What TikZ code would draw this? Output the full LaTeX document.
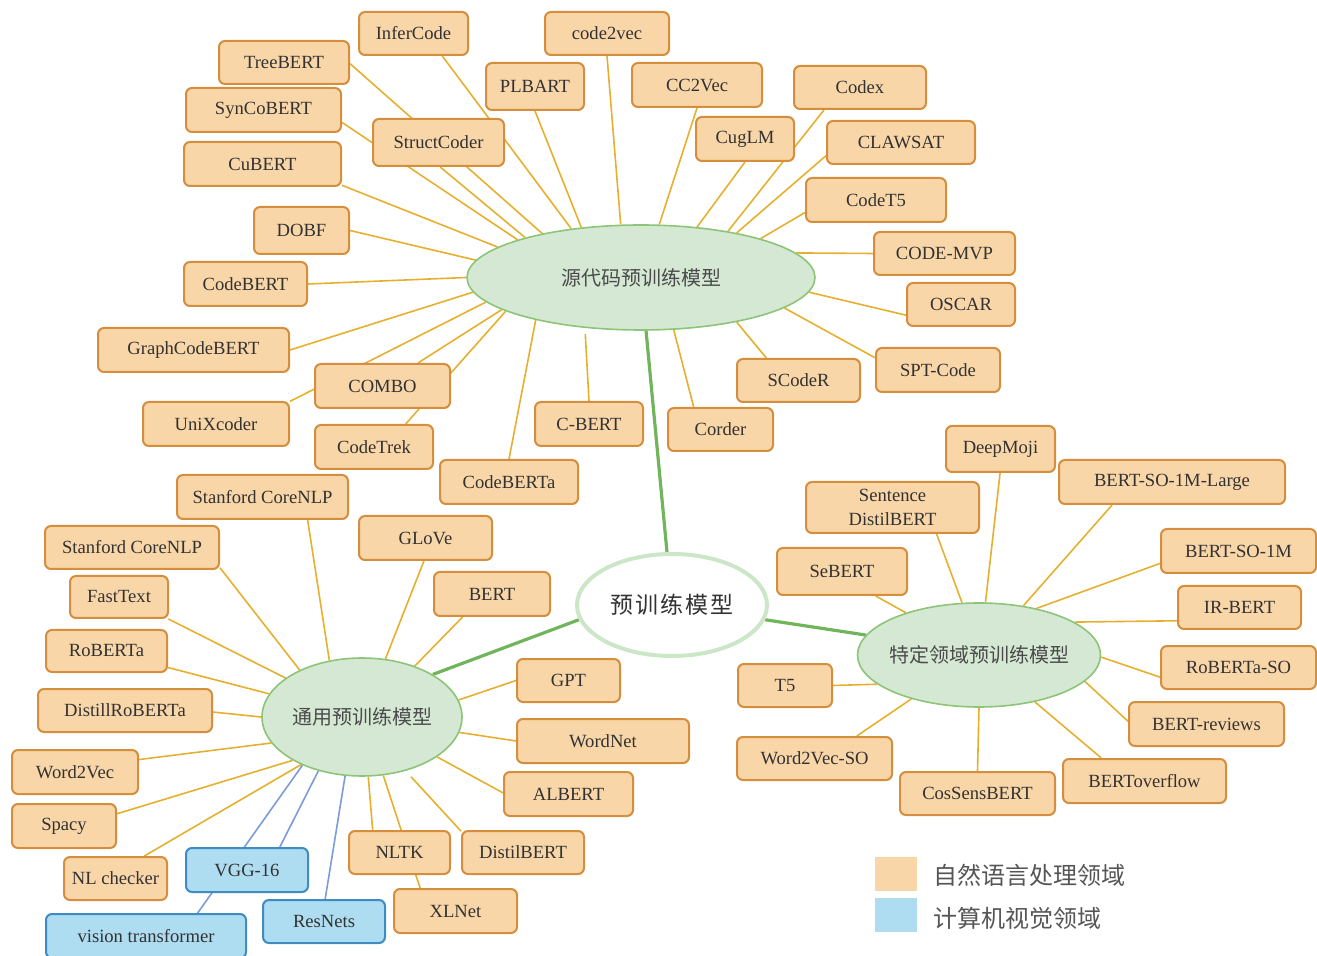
\documentclass[tikz,border=0pt]{standalone}
\usepackage{fontspec}
\setmainfont{Liberation Serif}
\newfontfamily\cjk{Noto Sans CJK SC}
\usetikzlibrary{shapes.geometric,backgrounds}
\definecolor{nlpfill}{RGB}{249,214,168}
\definecolor{nlpdraw}{RGB}{212,142,62}
\definecolor{cvfill}{RGB}{174,220,240}
\definecolor{cvdraw}{RGB}{62,140,196}
\definecolor{orangeline}{RGB}{230,176,46}
\definecolor{blueline}{RGB}{125,155,215}
\definecolor{greenline}{RGB}{112,180,92}
\definecolor{hubfill}{RGB}{213,232,211}
\definecolor{hubdraw}{RGB}{140,196,120}
\definecolor{rootdraw}{RGB}{204,230,200}
\definecolor{textc}{RGB}{50,50,50}
\definecolor{hubtext}{RGB}{75,75,75}
\definecolor{legtext}{RGB}{85,85,85}
\tikzset{
  bx/.style 2 args={minimum width=#1*0.5pt, minimum height=#2*0.5pt},
  nlp/.style={draw=nlpdraw, fill=nlpfill, line width=1pt, rounded corners=3pt,
    inner sep=0pt, font=\fontsize{9.3}{12}\selectfont, text=textc},
  cv/.style={nlp, draw=cvdraw, fill=cvfill},
  oe/.style={draw=orangeline, line width=0.8pt},
  be/.style={draw=blueline, line width=0.8pt},
  ge/.style={draw=greenline, line width=1.6pt},
  hub/.style={ellipse, draw=hubdraw, fill=hubfill, line width=0.8pt,
    inner ysep=0pt, inner xsep=-12pt, font=\cjk\fontsize{10}{12}\selectfont, text=hubtext},
  rootstyle/.style={ellipse, draw=rootdraw, fill=white, line width=2pt,
    inner ysep=0pt, inner xsep=-12pt, font=\cjk\fontsize{11.5}{13}\selectfont, text=textc},
  legbox/.style={minimum width=21pt, minimum height=17pt, inner sep=0pt},
  legtxt/.style={anchor=west, inner sep=0pt, font=\cjk\fontsize{12}{14}\selectfont, text=legtext}
}
\begin{document}
\begin{tikzpicture}[x=0.5pt,y=-0.5pt]
\useasboundingbox (0,0) rectangle (1317,956);

% hubs
\node[hub, minimum width=348*0.5pt, minimum height=105*0.5pt] (src) at (641,277.5) {源代码预训练模型};
\node[hub, minimum width=200*0.5pt, minimum height=118*0.5pt] (gen) at (362,717) {通用预训练模型};
\node[hub, minimum width=243*0.5pt, minimum height=104*0.5pt] (spec) at (979,655) {特定领域预训练模型};
\node[rootstyle, minimum width=190*0.5pt, minimum height=102*0.5pt] (root) at (672,605) {预\hspace{1pt}训\hspace{1pt}练\hspace{1pt}模\hspace{1pt}型};

% source code models
\node[nlp,bx={109}{43}] (infercode) at (413.5,33.5) {InferCode};
\node[nlp,bx={124}{43}] (codetovec) at (607,33.5) {code2vec};
\node[nlp,bx={130}{43}] (treebert) at (284,62.5) {TreeBERT};
\node[nlp,bx={98}{47}] (plbart) at (535,86.5) {PLBART};
\node[nlp,bx={130}{44}] (cctovec) at (697,85) {CC2Vec};
\node[nlp,bx={132}{43}] (codex) at (860,87.5) {Codex};
\node[nlp,bx={155}{44}] (syncobert) at (263.5,110) {SynCoBERT};
\node[nlp,bx={131}{47}] (structcoder) at (438.5,142.5) {StructCoder};
\node[nlp,bx={98}{44}] (cuglm) at (745,139) {CugLM};
\node[nlp,bx={148}{43}] (clawsat) at (901,142.5) {CLAWSAT};
\node[nlp,bx={157}{44}] (cubert) at (262.5,164) {CuBERT};
\node[nlp,bx={140}{44}] (codetfive) at (876,200) {CodeT5};
\node[nlp,bx={95}{47}] (dobf) at (301.5,230.5) {DOBF};
\node[nlp,bx={141}{43}] (codemvp) at (944.5,253.5) {CODE-MVP};
\node[nlp,bx={123}{44}] (codebert) at (245.5,284) {CodeBERT};
\node[nlp,bx={108}{43}] (oscar) at (961,304.5) {OSCAR};
\node[nlp,bx={191}{44}] (graphcodebert) at (193.5,350) {GraphCodeBERT};
\node[nlp,bx={124}{44}] (sptcode) at (938,370) {SPT-Code};
\node[nlp,bx={135}{44}] (combo) at (382.5,386) {COMBO};
\node[nlp,bx={123}{43}] (scoder) at (798.5,380.5) {SCodeR};
\node[nlp,bx={146}{44}] (unixcoder) at (216,424) {UniXcoder};
\node[nlp,bx={108}{44}] (cbert) at (589,424) {C-BERT};
\node[nlp,bx={105}{43}] (corder) at (720.5,429.5) {Corder};
\node[nlp,bx={118}{44}] (codetrek) at (374,447) {CodeTrek};
\node[nlp,bx={138}{44}] (codeberta) at (509,482) {CodeBERTa};

% general models
\node[nlp,bx={171}{44}] (scnlpa) at (262.5,497) {Stanford CoreNLP};
\node[nlp,bx={174}{43}] (scnlpb) at (132,547.5) {Stanford CoreNLP};
\node[nlp,bx={133}{44}] (glove) at (425.5,538) {GLoVe};
\node[nlp,bx={98}{42}] (fasttext) at (119,597) {FastText};
\node[nlp,bx={116}{44}] (bert) at (492,594) {BERT};
\node[nlp,bx={121}{42}] (roberta) at (106.5,651) {RoBERTa};
\node[nlp,bx={103}{43}] (gpt) at (568.5,680.5) {GPT};
\node[nlp,bx={174}{43}] (distillroberta) at (125,710.5) {DistillRoBERTa};
\node[nlp,bx={172}{44}] (wordnet) at (603,741) {WordNet};
\node[nlp,bx={126}{44}] (wordtovec) at (75,772) {Word2Vec};
\node[nlp,bx={129}{44}] (albert) at (568.5,794) {ALBERT};
\node[nlp,bx={104}{44}] (spacy) at (64,826) {Spacy};
\node[nlp,bx={101}{43}] (nltk) at (399.5,852.5) {NLTK};
\node[nlp,bx={122}{43}] (distilbert) at (523,852.5) {DistilBERT};
\node[nlp,bx={103}{43}] (nlchecker) at (115.5,878.5) {NL checker};
\node[cv,bx={122}{44}] (vgg) at (247,870) {VGG-16};
\node[nlp,bx={123}{44}] (xlnet) at (455.5,911) {XLNet};
\node[cv,bx={122}{43}] (resnets) at (324,921.5) {ResNets};
\node[cv,bx={200}{44}] (vit) at (146,936) {vision transformer};

% domain-specific models
\node[nlp,bx={109}{46}] (deepmoji) at (1000.5,449) {DeepMoji};
\node[nlp,bx={226}{44}] (bsolarge) at (1172,482) {BERT-SO-1M-Large};
\node[nlp,bx={173}{51},align=center] (sdistil) at (892.5,507.5) {Sentence\\DistilBERT};
\node[nlp,bx={130}{47}] (sebert) at (842,571.5) {SeBERT};
\node[nlp,bx={155}{44}] (bso) at (1238.5,551) {BERT-SO-1M};
\node[nlp,bx={123}{43}] (irbert) at (1239.5,607.5) {IR-BERT};
\node[nlp,bx={155}{43}] (robertaso) at (1238.5,667.5) {RoBERTa-SO};
\node[nlp,bx={94}{43}] (tfive) at (785,685.5) {T5};
\node[nlp,bx={155}{44}] (bertrev) at (1206.5,724) {BERT-reviews};
\node[nlp,bx={155}{43}] (wtvso) at (814.5,758.5) {Word2Vec-SO};
\node[nlp,bx={155}{43}] (cossens) at (977.5,793.5) {CosSensBERT};
\node[nlp,bx={163}{44}] (bertoverflow) at (1144.5,781) {BERToverflow};

% legend
\node[legbox, fill=nlpfill] (legnlp) at (896,874) {};
\node[legbox, fill=cvfill] (legcv) at (896,915) {};
\node[legtxt] (legnlptxt) at (933,875) {自然语言处理领域};
\node[legtxt] (legcvtxt) at (933,918) {计算机视觉领域};

\begin{pgfonlayer}{background}
% main green links
\draw[ge] (src) -- (root);
\draw[ge] (root.189) -- (gen.31);
\draw[ge] (root.-9) -- (spec.170);

% source code links
\draw[oe] (infercode.-38) -- (src.145);
\draw[oe] (treebert.-1) -- (src.156);
\draw[oe] (syncobert.-9) -- (src.163);
\draw[oe] (structcoder.-86) -- (src.161);
\draw[oe] (cubert.-15) -- (src.168);
\draw[oe] (dobf.0) -- (src.174);
\draw[oe] (codebert.0) -- (src.180);
\draw[oe] (plbart.-90) -- (src.140);
\draw[oe] (codetovec.-90) -- (src.111);
\draw[oe] (cctovec.-90) -- (src.71);
\draw[oe] (cuglm.-90) -- (src.42);
\draw[oe] (codex.212) -- (src.28);
\draw[oe] (clawsat.190) -- (src.25);
\draw[oe] (codetfive.190) -- (src.18);
\draw[oe] (codemvp.180) -- (src.9);
\draw[oe] (oscar.191) -- (src.-5);
\draw[oe] (sptcode.169) -- (src.-12);
\draw[oe] (scoder.145) -- (src.-25);
\draw[oe] (corder.140) -- (src.-58);
\draw[oe, shorten >=3pt] (cbert.90) -- (src.-138);
\draw[oe] (codeberta.90) -- (src.202);
\draw[oe] (codetrek.36) -- (src.194);
\draw[oe] (combo.33) -- (src.193);
\draw[oe] (unixcoder.17) -- (src.189);
\draw[oe] (graphcodebert.0) -- (src.185);

% general links
\draw[oe] (scnlpb.-13) -- (gen.143);
\draw[oe] (scnlpa.-27) -- (gen.120);
\draw[oe] (glove.-94) -- (gen.68);
\draw[oe] (bert.218) -- (gen.44);
\draw[oe] (fasttext.-24) -- (gen.153);
\draw[oe] (roberta.-15) -- (gen.166);
\draw[oe] (distillroberta.-1) -- (gen.180);
\draw[oe] (wordtovec.11) -- (gen.196);
\draw[oe] (spacy.13) -- (gen.212);
\draw[oe] (nlchecker.38) -- (gen.218);
\draw[be] (vit.24) -- (gen.219);
\draw[be] (vgg.35) -- (gen.231);
\draw[be] (resnets.87) -- (gen.254);
\draw[oe] (nltk.140) -- (gen.-84);
\draw[oe] (xlnet.147) -- (gen.-70);
\draw[oe, shorten >=4pt] (distilbert.161) -- (gen.-51);
\draw[oe] (albert.179) -- (gen.-28);
\draw[oe] (wordnet.180) -- (gen.-9);
\draw[oe] (gpt.180) -- (gen.10);

% specific links
\draw[oe] (sdistil.-31) -- (spec.108);
\draw[oe] (deepmoji.-91) -- (spec.83);
\draw[oe] (bsolarge.201) -- (spec.48);
\draw[oe] (bso.189) -- (spec.39);
\draw[oe] (irbert.192) -- (spec.19);
\draw[oe] (robertaso.187) -- (spec.-1);
\draw[oe] (bertrev.178) -- (spec.-14);
\draw[oe] (bertoverflow.152) -- (spec.-40);
\draw[oe] (cossens.90) -- (spec.-90);
\draw[oe] (wtvso.28) -- (spec.213);
\draw[oe] (tfive.0) -- (spec.196);
\draw[oe] (sebert.-36) -- (spec.150);
\end{pgfonlayer}
\end{tikzpicture}
\end{document}
